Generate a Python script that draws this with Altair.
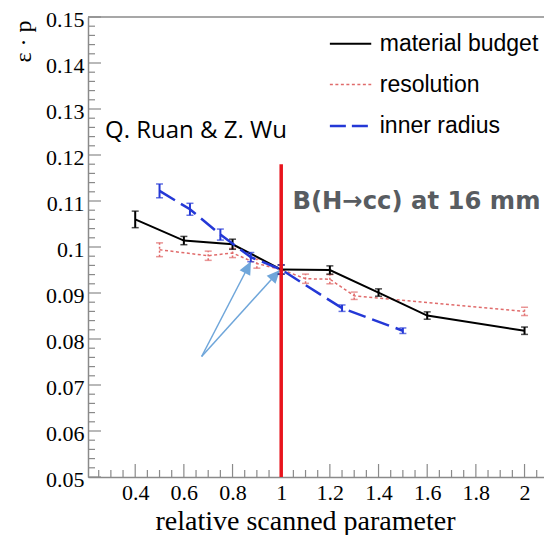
import math
import altair as alt
import pandas as pd

# ---- data ----
mb_x = [0.4, 0.6, 0.8, 1.0, 1.2, 1.4, 1.6, 2.0]
mb_y = [0.1060, 0.1014, 0.1006, 0.0951, 0.0950, 0.0901, 0.0851, 0.0818]
mb_e = [0.0018, 0.0009, 0.0011, 0.0010, 0.0009, 0.0008, 0.0008, 0.0008]

res_x = [0.5, 0.7, 0.8, 0.9, 1.0, 1.1, 1.2, 1.3, 2.0]
res_y = [0.0994, 0.0981, 0.0987, 0.0964, 0.0951, 0.0931, 0.0930, 0.0894, 0.0860]
res_e = [0.0015, 0.0010, 0.0010, 0.0010, 0.0010, 0.0010, 0.0010, 0.0008, 0.0009]

ir_x = [0.5, 0.625, 0.75, 0.875, 1.0, 1.25, 1.5]
ir_y = [0.1122, 0.1082, 0.1027, 0.0978, 0.0951, 0.0867, 0.0818]
ir_e = [0.0015, 0.0013, 0.0012, 0.0010, 0.0010, 0.0007, 0.0006]

x_major = [0.4, 0.6, 0.8, 1.0, 1.2, 1.4, 1.6, 1.8, 2.0]
x_minor = [0.25, 0.3, 0.35, 0.45, 0.5, 0.55, 0.65, 0.7, 0.75, 0.85, 0.9, 0.95,
           1.05, 1.1, 1.15, 1.25, 1.3, 1.35, 1.45, 1.5, 1.55, 1.65, 1.7, 1.75,
           1.85, 1.9, 1.95, 2.05]
y_major = [0.05, 0.06, 0.07, 0.08, 0.09, 0.10, 0.11, 0.12, 0.13, 0.14, 0.15]
y_minor = [round(0.05 + 0.002 * i, 4) for i in range(51) if i % 5 != 0]

legend_names = ["material budget", "resolution", "inner radius"]
legend_y = [0.1442, 0.1353, 0.1263]

ref_x = [1.0]
ref_y = [0.05]
ref_y2 = [0.118]

arrow_x0 = [0.673, 0.673]
arrow_y0 = [0.0762, 0.0762]
arrow_x1 = [0.876, 0.995]
arrow_y1 = [0.0969, 0.0950]

# ---- scale setup ----
W, H = 456, 460
XD = [0.206, 2.08]
YD = [0.05, 0.15]
xs = alt.Scale(domain=XD, nice=False, zero=False)
ys = alt.Scale(domain=YD, nice=False, zero=False)
GRAY = "#8a8a8a"


def px(xv):
    return (xv - XD[0]) / (XD[1] - XD[0]) * W


def py(yv):
    return (YD[1] - yv) / (YD[1] - YD[0]) * H


X = lambda f: alt.X(f, type="quantitative", scale=xs)
Y = lambda f: alt.Y(f, type="quantitative", scale=ys)

base_x_axis = alt.Axis(values=x_major, format="~g", ticks=False, grid=False,
                       domainColor=GRAY, domainWidth=1.5,
                       labelFont="Liberation Serif", labelFontSize=22,
                       labelColor="black", labelPadding=5,
                       title="relative scanned parameter",
                       titleFont="Liberation Serif", titleFontSize=28,
                       titleFontWeight="normal", titleColor="black",
                       titleBaseline="alphabetic", titleY=52, titleX=217)
base_y_axis = alt.Axis(values=y_major, format="~g", ticks=False, grid=False,
                       domainColor=GRAY, domainWidth=1.5,
                       labelFont="Liberation Serif", labelFontSize=22,
                       labelColor="black", labelPadding=4, labelOffset=2.5,
                       title="ε · p", titleFont="Liberation Serif",
                       titleFontSize=24, titleFontWeight="normal",
                       titleColor="black", titleAngle=270,
                       titleAlign="center", titleBaseline="middle",
                       titleX=-65, titleY=24)

# top frame line
top_df = pd.DataFrame({"y": [YD[1]]})
frame = alt.Chart(top_df).mark_rule(color=GRAY, strokeWidth=1.5).encode(
    y=alt.Y("y:Q", scale=ys, axis=base_y_axis),
    x=alt.value(0), x2=alt.value(W))

# x axis carrier (invisible point)
xaxis_df = pd.DataFrame({"x": [XD[0]]})
xaxis_layer = alt.Chart(xaxis_df).mark_point(opacity=0).encode(
    x=alt.X("x:Q", scale=xs, axis=base_x_axis))

# inward ticks
xmaj = alt.Chart(pd.DataFrame({"x": x_major})).mark_rule(color=GRAY, strokeWidth=1.2).encode(
    x=X("x"), y=alt.value(H), y2=alt.value(H - 13))
xmin = alt.Chart(pd.DataFrame({"x": x_minor})).mark_rule(color=GRAY, strokeWidth=1.2).encode(
    x=X("x"), y=alt.value(H), y2=alt.value(H - 7))
ymaj = alt.Chart(pd.DataFrame({"y": y_major})).mark_rule(color=GRAY, strokeWidth=1.2).encode(
    y=Y("y"), x=alt.value(0), x2=alt.value(13))
ymin = alt.Chart(pd.DataFrame({"y": y_minor})).mark_rule(color=GRAY, strokeWidth=1.2).encode(
    y=Y("y"), x=alt.value(0), x2=alt.value(7))


def series(xv, yv, ev, color, width, dash, ewidth, edash):
    df = pd.DataFrame({"x": xv, "y": yv,
                       "lo": [a - b for a, b in zip(yv, ev)],
                       "hi": [a + b for a, b in zip(yv, ev)]})
    line_kw = dict(color=color, strokeWidth=width)
    if dash:
        line_kw["strokeDash"] = dash
    line = alt.Chart(df).mark_line(**line_kw).encode(x=X("x"), y=Y("y"))
    eb_kw = dict(color=color, strokeWidth=ewidth)
    if edash:
        eb_kw["strokeDash"] = edash
    bars = alt.Chart(df).mark_rule(**eb_kw).encode(x=X("x"), y=Y("lo"), y2="hi")
    cap_lo = alt.Chart(df).mark_tick(orient="horizontal", color=color, size=7,
                                     thickness=1.5).encode(x=X("x"), y=Y("lo"))
    cap_hi = alt.Chart(df).mark_tick(orient="horizontal", color=color, size=7,
                                     thickness=1.5).encode(x=X("x"), y=Y("hi"))
    return [line, bars, cap_lo, cap_hi]


RED_S = "#e06b6b"
BLUE = "#2438d6"
mb_layers = series(mb_x, mb_y, mb_e, "black", 2, None, 2, None)
res_layers = series(res_x, res_y, res_e, RED_S, 1.5, [3, 2.5], 1.5, [2, 2])
ir_layers = series(ir_x, ir_y, ir_e, BLUE, 2.5, [18, 7], 2, None)

# red reference line
ref = alt.Chart(pd.DataFrame({"x": ref_x, "y": ref_y, "y2": ref_y2})).mark_rule(
    color="#e8141c", strokeWidth=3.5).encode(x=X("x"), y=Y("y"), y2="y2")

# arrows
ang = []
for a, b, c, d in zip(arrow_x0, arrow_y0, arrow_x1, arrow_y1):
    dx = px(c) - px(a)
    dy = py(d) - py(b)
    ang.append(math.degrees(math.atan2(dx, -dy)) % 360)
arr_df = pd.DataFrame({"x0": arrow_x0, "y0": arrow_y0, "x1": arrow_x1,
                       "y1": arrow_y1, "ang": ang})
ACOL = "#6fa6da"
arr_lines = alt.Chart(arr_df).mark_rule(color=ACOL, strokeWidth=1.5).encode(
    x=X("x0"), y=Y("y0"), x2="x1", y2="y1")
arr_heads = alt.Chart(arr_df).mark_point(
    shape="M0,0 L0.45,1 L-0.45,1 Z", filled=True, fill=ACOL, opacity=1,
    strokeWidth=0, size=700).encode(x=X("x1"), y=Y("y1"),
                                    angle=alt.Angle("ang:Q", scale=None))

# legend
leg_df = pd.DataFrame({"name": legend_names, "y": legend_y,
                       "x0": [1.2] * 3, "x1": [1.37] * 3, "tx": [1.405] * 3})
leg_styles = [("black", 2, None), (RED_S, 1.5, [3, 2.5]), (BLUE, 2.5, [16, 6])]
leg_layers = []
for i, (c, w, d) in enumerate(leg_styles):
    kw = dict(color=c, strokeWidth=w)
    if d:
        kw["strokeDash"] = d
    leg_layers.append(alt.Chart(leg_df.iloc[[i]]).mark_rule(**kw).encode(
        x=X("x0"), x2="x1", y=Y("y")))
leg_text = alt.Chart(leg_df).mark_text(
    font="Liberation Sans", fontSize=23, align="left", baseline="middle",
    color="black").encode(x=X("tx"), y=Y("y"), text="name")

# annotations
ann_df = pd.DataFrame({"x": [0.276], "y": [0.1252], "t": ["Q. Ruan & Z. Wu"]})
ann1 = alt.Chart(ann_df).mark_text(font="Open Sans", fontSize=24, align="left",
                                   baseline="middle", color="black").encode(
    x=X("x"), y=Y("y"), text="t")
ann2_df = pd.DataFrame({"x": [1.046], "y": [0.1098], "t": ["B(H→cc) at 16 mm"]})
ann2 = alt.Chart(ann2_df).mark_text(font="DejaVu Sans", fontSize=24.3, fontWeight="bold",
                                    align="left", baseline="middle",
                                    color="#585c61").encode(
    x=X("x"), y=Y("y"), text="t")

chart = alt.layer(
    frame, xaxis_layer, xmaj, xmin, ymaj, ymin,
    arr_lines, arr_heads,
    *res_layers, *mb_layers, *ir_layers,
    ref,
    *leg_layers, leg_text, ann1, ann2,
).properties(
    width=W, height=H,
    autosize=alt.AutoSizeParams(type="none"),
    padding={"left": 80, "top": 9, "right": 0, "bottom": 58},
).configure_view(stroke=None)

chart.save("out.html", embed_options={"renderer": "svg", "actions": False})
